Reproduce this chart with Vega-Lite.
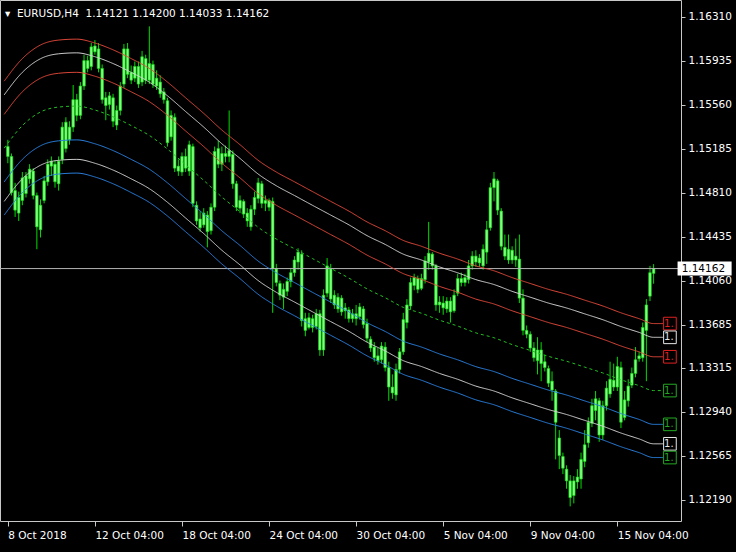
{
"$schema": "https://vega.github.io/schema/vega-lite/v6.json",
"width": 681, "height": 521,
"autosize": "none",
"padding": {"left": 0, "top": 0, "right": 55, "bottom": 31},
"background": "black",
"config": {"view": {"stroke": "#c8c8c8", "strokeWidth": 1, "fill": "black"}, "font": "DejaVu Sans"},
"title": {"text": "▾\u00a0 EURUSD,H4\u00a0\u00a01.14121 1.14200 1.14033 1.14162", "anchor": "start", "frame": "group", "orient": "top", "offset": -27, "dx": 5, "baseline": "alphabetic", "color": "white", "font": "DejaVu Sans", "fontSize": 10.5, "fontWeight": "normal"},
"datasets": {
"bars": [
{"i":1,"o":1.15202,"h":1.15260,"l":1.15060,"c":1.15118},
{"i":2,"o":1.15118,"h":1.15143,"l":1.14785,"c":1.14810},
{"i":3,"o":1.14827,"h":1.14893,"l":1.14602,"c":1.14660},
{"i":4,"o":1.14635,"h":1.14818,"l":1.14568,"c":1.14768},
{"i":5,"o":1.14743,"h":1.14985,"l":1.14702,"c":1.14935},
{"i":6,"o":1.14952,"h":1.14985,"l":1.14768,"c":1.14802},
{"i":7,"o":1.14927,"h":1.15052,"l":1.14885,"c":1.15010},
{"i":8,"o":1.14993,"h":1.15018,"l":1.14752,"c":1.14785},
{"i":9,"o":1.14785,"h":1.14810,"l":1.14327,"c":1.14518},
{"i":10,"o":1.14493,"h":1.14752,"l":1.14427,"c":1.14702},
{"i":11,"o":1.14743,"h":1.14952,"l":1.14718,"c":1.14910},
{"i":12,"o":1.14902,"h":1.15093,"l":1.14868,"c":1.15052},
{"i":13,"o":1.15035,"h":1.15118,"l":1.14952,"c":1.15077},
{"i":14,"o":1.15052,"h":1.15085,"l":1.14852,"c":1.14902},
{"i":15,"o":1.14885,"h":1.15118,"l":1.14827,"c":1.15077},
{"i":16,"o":1.15093,"h":1.15410,"l":1.15052,"c":1.15368},
{"i":17,"o":1.15410,"h":1.15452,"l":1.15152,"c":1.15185},
{"i":18,"o":1.15260,"h":1.15418,"l":1.15218,"c":1.15368},
{"i":19,"o":1.15368,"h":1.15727,"l":1.15327,"c":1.15602},
{"i":20,"o":1.15602,"h":1.15652,"l":1.15418,"c":1.15468},
{"i":21,"o":1.15468,"h":1.15752,"l":1.15435,"c":1.15718},
{"i":22,"o":1.15718,"h":1.15985,"l":1.15685,"c":1.15935},
{"i":23,"o":1.15935,"h":1.15977,"l":1.15835,"c":1.15868},
{"i":24,"o":1.15885,"h":1.16085,"l":1.15852,"c":1.16052},
{"i":25,"o":1.16060,"h":1.16110,"l":1.15985,"c":1.16010},
{"i":26,"o":1.16035,"h":1.16085,"l":1.15835,"c":1.15868},
{"i":27,"o":1.15868,"h":1.15902,"l":1.15568,"c":1.15602},
{"i":28,"o":1.15618,"h":1.15668,"l":1.15427,"c":1.15552},
{"i":29,"o":1.15560,"h":1.15668,"l":1.15518,"c":1.15635},
{"i":30,"o":1.15618,"h":1.15652,"l":1.15368,"c":1.15418},
{"i":31,"o":1.15385,"h":1.15552,"l":1.15343,"c":1.15510},
{"i":32,"o":1.15510,"h":1.15752,"l":1.15468,"c":1.15718},
{"i":33,"o":1.15735,"h":1.16077,"l":1.15702,"c":1.16035},
{"i":34,"o":1.16035,"h":1.16085,"l":1.15785,"c":1.15818},
{"i":35,"o":1.15835,"h":1.15893,"l":1.15735,"c":1.15768},
{"i":36,"o":1.15785,"h":1.15927,"l":1.15752,"c":1.15885},
{"i":37,"o":1.15885,"h":1.15927,"l":1.15702,"c":1.15735},
{"i":38,"o":1.15752,"h":1.16018,"l":1.15718,"c":1.15968},
{"i":39,"o":1.15952,"h":1.15985,"l":1.15735,"c":1.15768},
{"i":40,"o":1.15768,"h":1.16227,"l":1.15735,"c":1.15910},
{"i":41,"o":1.15902,"h":1.15935,"l":1.15702,"c":1.15735},
{"i":42,"o":1.15785,"h":1.15852,"l":1.15685,"c":1.15718},
{"i":43,"o":1.15752,"h":1.15810,"l":1.15618,"c":1.15652},
{"i":44,"o":1.15668,"h":1.15702,"l":1.15568,"c":1.15602},
{"i":45,"o":1.15593,"h":1.15618,"l":1.15202,"c":1.15235},
{"i":46,"o":1.15285,"h":1.15510,"l":1.15252,"c":1.15468},
{"i":47,"o":1.15452,"h":1.15485,"l":1.14985,"c":1.15018},
{"i":48,"o":1.15035,"h":1.15093,"l":1.14952,"c":1.14993},
{"i":49,"o":1.14985,"h":1.15152,"l":1.14952,"c":1.15118},
{"i":50,"o":1.15118,"h":1.15185,"l":1.14985,"c":1.15018},
{"i":51,"o":1.14993,"h":1.15252,"l":1.14952,"c":1.15218},
{"i":52,"o":1.15202,"h":1.15227,"l":1.14685,"c":1.14718},
{"i":53,"o":1.14702,"h":1.14735,"l":1.14535,"c":1.14568},
{"i":54,"o":1.14585,"h":1.14652,"l":1.14477,"c":1.14510},
{"i":55,"o":1.14535,"h":1.14677,"l":1.14510,"c":1.14635},
{"i":56,"o":1.14618,"h":1.14652,"l":1.14343,"c":1.14477},
{"i":57,"o":1.14485,"h":1.14718,"l":1.14452,"c":1.14685},
{"i":58,"o":1.14685,"h":1.15202,"l":1.14652,"c":1.15160},
{"i":59,"o":1.15185,"h":1.15252,"l":1.15018,"c":1.15052},
{"i":60,"o":1.15052,"h":1.15202,"l":1.14993,"c":1.15143},
{"i":61,"o":1.15143,"h":1.15210,"l":1.15068,"c":1.15118},
{"i":62,"o":1.15118,"h":1.15510,"l":1.15068,"c":1.15168},
{"i":63,"o":1.15135,"h":1.15168,"l":1.14843,"c":1.14885},
{"i":64,"o":1.14885,"h":1.14910,"l":1.14652,"c":1.14685},
{"i":65,"o":1.14677,"h":1.14785,"l":1.14635,"c":1.14743},
{"i":66,"o":1.14735,"h":1.14752,"l":1.14593,"c":1.14627},
{"i":67,"o":1.14635,"h":1.14677,"l":1.14518,"c":1.14568},
{"i":68,"o":1.14518,"h":1.14702,"l":1.14485,"c":1.14668},
{"i":69,"o":1.14668,"h":1.14818,"l":1.14618,"c":1.14768},
{"i":70,"o":1.14760,"h":1.14935,"l":1.14718,"c":1.14893},
{"i":71,"o":1.14885,"h":1.14910,"l":1.14677,"c":1.14718},
{"i":72,"o":1.14718,"h":1.14785,"l":1.14652,"c":1.14743},
{"i":73,"o":1.14743,"h":1.14760,"l":1.14652,"c":1.14685},
{"i":74,"o":1.14735,"h":1.14768,"l":1.13785,"c":1.14160},
{"i":75,"o":1.14160,"h":1.14202,"l":1.14010,"c":1.14043},
{"i":76,"o":1.14035,"h":1.14060,"l":1.13893,"c":1.13935},
{"i":77,"o":1.13918,"h":1.14035,"l":1.13818,"c":1.13985},
{"i":78,"o":1.13968,"h":1.14085,"l":1.13927,"c":1.14052},
{"i":79,"o":1.14052,"h":1.14168,"l":1.14002,"c":1.14127},
{"i":80,"o":1.14127,"h":1.14268,"l":1.14093,"c":1.14235},
{"i":81,"o":1.14218,"h":1.14335,"l":1.14152,"c":1.14302},
{"i":82,"o":1.14285,"h":1.14318,"l":1.13668,"c":1.13718},
{"i":83,"o":1.13735,"h":1.13785,"l":1.13585,"c":1.13635},
{"i":84,"o":1.13660,"h":1.13785,"l":1.13643,"c":1.13743},
{"i":85,"o":1.13735,"h":1.13768,"l":1.13618,"c":1.13660},
{"i":86,"o":1.13668,"h":1.13818,"l":1.13643,"c":1.13777},
{"i":87,"o":1.13777,"h":1.13810,"l":1.13418,"c":1.13468},
{"i":88,"o":1.13468,"h":1.13985,"l":1.13418,"c":1.13935},
{"i":89,"o":1.13952,"h":1.14252,"l":1.13918,"c":1.14185},
{"i":90,"o":1.14160,"h":1.14202,"l":1.13868,"c":1.13902},
{"i":91,"o":1.13935,"h":1.13977,"l":1.13818,"c":1.13852},
{"i":92,"o":1.13818,"h":1.13952,"l":1.13785,"c":1.13918},
{"i":93,"o":1.13910,"h":1.13935,"l":1.13760,"c":1.13793},
{"i":94,"o":1.13802,"h":1.13868,"l":1.13735,"c":1.13827},
{"i":95,"o":1.13810,"h":1.13835,"l":1.13702,"c":1.13735},
{"i":96,"o":1.13735,"h":1.13818,"l":1.13702,"c":1.13777},
{"i":97,"o":1.13777,"h":1.13852,"l":1.13677,"c":1.13735},
{"i":98,"o":1.13752,"h":1.13868,"l":1.13727,"c":1.13835},
{"i":99,"o":1.13818,"h":1.13843,"l":1.13652,"c":1.13685},
{"i":100,"o":1.13693,"h":1.13735,"l":1.13535,"c":1.13568},
{"i":101,"o":1.13560,"h":1.13585,"l":1.13452,"c":1.13485},
{"i":102,"o":1.13493,"h":1.13535,"l":1.13368,"c":1.13402},
{"i":103,"o":1.13418,"h":1.13485,"l":1.13343,"c":1.13377},
{"i":104,"o":1.13385,"h":1.13535,"l":1.13352,"c":1.13502},
{"i":105,"o":1.13493,"h":1.13535,"l":1.13285,"c":1.13318},
{"i":106,"o":1.13318,"h":1.13368,"l":1.13035,"c":1.13152},
{"i":107,"o":1.13152,"h":1.13260,"l":1.13052,"c":1.13102},
{"i":108,"o":1.13085,"h":1.13352,"l":1.13035,"c":1.13302},
{"i":109,"o":1.13302,"h":1.13485,"l":1.13268,"c":1.13452},
{"i":110,"o":1.13452,"h":1.13785,"l":1.13427,"c":1.13727},
{"i":111,"o":1.13702,"h":1.13902,"l":1.13652,"c":1.13852},
{"i":112,"o":1.13843,"h":1.14085,"l":1.13810,"c":1.14043},
{"i":113,"o":1.14018,"h":1.14118,"l":1.13977,"c":1.14085},
{"i":114,"o":1.14077,"h":1.14102,"l":1.13952,"c":1.13985},
{"i":115,"o":1.13993,"h":1.14118,"l":1.13977,"c":1.14077},
{"i":116,"o":1.14068,"h":1.14268,"l":1.14035,"c":1.14227},
{"i":117,"o":1.14218,"h":1.14560,"l":1.14152,"c":1.14293},
{"i":118,"o":1.14285,"h":1.14302,"l":1.14152,"c":1.14185},
{"i":119,"o":1.14185,"h":1.14202,"l":1.13802,"c":1.13852},
{"i":120,"o":1.13852,"h":1.13927,"l":1.13785,"c":1.13877},
{"i":121,"o":1.13868,"h":1.13927,"l":1.13768,"c":1.13827},
{"i":122,"o":1.13818,"h":1.13918,"l":1.13785,"c":1.13885},
{"i":123,"o":1.13885,"h":1.13918,"l":1.13702,"c":1.13793},
{"i":124,"o":1.13802,"h":1.13985,"l":1.13785,"c":1.13935},
{"i":125,"o":1.13952,"h":1.14118,"l":1.13927,"c":1.14077},
{"i":126,"o":1.14077,"h":1.14127,"l":1.14010,"c":1.14043},
{"i":127,"o":1.14043,"h":1.14118,"l":1.14010,"c":1.14085},
{"i":128,"o":1.14068,"h":1.14235,"l":1.14035,"c":1.14185},
{"i":129,"o":1.14185,"h":1.14310,"l":1.14152,"c":1.14268},
{"i":130,"o":1.14268,"h":1.14318,"l":1.14177,"c":1.14218},
{"i":131,"o":1.14210,"h":1.14285,"l":1.14177,"c":1.14252},
{"i":132,"o":1.14185,"h":1.14368,"l":1.14152,"c":1.14327},
{"i":133,"o":1.14302,"h":1.14568,"l":1.14202,"c":1.14493},
{"i":134,"o":1.14510,"h":1.14893,"l":1.14485,"c":1.14852},
{"i":135,"o":1.14852,"h":1.14985,"l":1.14735,"c":1.14927},
{"i":136,"o":1.14910,"h":1.14927,"l":1.14618,"c":1.14660},
{"i":137,"o":1.14652,"h":1.14677,"l":1.14318,"c":1.14352},
{"i":138,"o":1.14343,"h":1.14452,"l":1.14235,"c":1.14268},
{"i":139,"o":1.14235,"h":1.14452,"l":1.14202,"c":1.14327},
{"i":140,"o":1.14318,"h":1.14352,"l":1.14202,"c":1.14235},
{"i":141,"o":1.14235,"h":1.14418,"l":1.14177,"c":1.14268},
{"i":142,"o":1.14243,"h":1.14452,"l":1.13868,"c":1.13910},
{"i":143,"o":1.13910,"h":1.13985,"l":1.13593,"c":1.13635},
{"i":144,"o":1.13635,"h":1.13677,"l":1.13568,"c":1.13602},
{"i":145,"o":1.13602,"h":1.13627,"l":1.13452,"c":1.13485},
{"i":146,"o":1.13485,"h":1.13535,"l":1.13368,"c":1.13402},
{"i":147,"o":1.13377,"h":1.13577,"l":1.13260,"c":1.13468},
{"i":148,"o":1.13468,"h":1.13535,"l":1.13202,"c":1.13352},
{"i":149,"o":1.13368,"h":1.13427,"l":1.13285,"c":1.13318},
{"i":150,"o":1.13310,"h":1.13335,"l":1.13152,"c":1.13185},
{"i":151,"o":1.13202,"h":1.13285,"l":1.13035,"c":1.13127},
{"i":152,"o":1.13118,"h":1.13135,"l":1.12535,"c":1.12852},
{"i":153,"o":1.12718,"h":1.12785,"l":1.12452,"c":1.12568},
{"i":154,"o":1.12560,"h":1.12593,"l":1.12410,"c":1.12460},
{"i":155,"o":1.12452,"h":1.12485,"l":1.12285,"c":1.12352},
{"i":156,"o":1.12352,"h":1.12402,"l":1.12135,"c":1.12210},
{"i":157,"o":1.12227,"h":1.12393,"l":1.12160,"c":1.12352},
{"i":158,"o":1.12343,"h":1.12452,"l":1.12285,"c":1.12385},
{"i":159,"o":1.12368,"h":1.12593,"l":1.12285,"c":1.12535},
{"i":160,"o":1.12518,"h":1.12785,"l":1.12468,"c":1.12660},
{"i":161,"o":1.12677,"h":1.12893,"l":1.12635,"c":1.12852},
{"i":162,"o":1.12843,"h":1.13052,"l":1.12810,"c":1.12993},
{"i":163,"o":1.12952,"h":1.13118,"l":1.12868,"c":1.13052},
{"i":164,"o":1.13035,"h":1.13060,"l":1.12685,"c":1.12743},
{"i":165,"o":1.12743,"h":1.13035,"l":1.12702,"c":1.12993},
{"i":166,"o":1.12993,"h":1.13202,"l":1.12952,"c":1.13143},
{"i":167,"o":1.13093,"h":1.13368,"l":1.13060,"c":1.13218},
{"i":168,"o":1.13210,"h":1.13352,"l":1.13118,"c":1.13152},
{"i":169,"o":1.13152,"h":1.13410,"l":1.13118,"c":1.13327},
{"i":170,"o":1.13318,"h":1.13368,"l":1.12802,"c":1.12852},
{"i":171,"o":1.12893,"h":1.13118,"l":1.12868,"c":1.13043},
{"i":172,"o":1.13035,"h":1.13218,"l":1.12985,"c":1.13160},
{"i":173,"o":1.13168,"h":1.13318,"l":1.13143,"c":1.13268},
{"i":174,"o":1.13268,"h":1.13493,"l":1.13235,"c":1.13385},
{"i":175,"o":1.13393,"h":1.13452,"l":1.13368,"c":1.13418},
{"i":176,"o":1.13402,"h":1.13702,"l":1.13368,"c":1.13660},
{"i":177,"o":1.13635,"h":1.13902,"l":1.13202,"c":1.13852},
{"i":178,"o":1.13927,"h":1.14185,"l":1.13885,"c":1.14127},
{"i":179,"o":1.14121,"h":1.14200,"l":1.14033,"c":1.14162}
],
"bands": [
{"i":0,"ru":1.15760,"wu":1.15643,"rl":1.15477,"ma":1.15189,"bu":1.14901,"wl":1.14735,"bl":1.14618},
{"i":5,"ru":1.15952,"wu":1.15835,"rl":1.15669,"ma":1.15381,"bu":1.15093,"wl":1.14927,"bl":1.14810},
{"i":10,"ru":1.16068,"wu":1.15951,"rl":1.15785,"ma":1.15497,"bu":1.15209,"wl":1.15043,"bl":1.14926},
{"i":15,"ru":1.16110,"wu":1.15993,"rl":1.15827,"ma":1.15539,"bu":1.15251,"wl":1.15085,"bl":1.14968},
{"i":20,"ru":1.16118,"wu":1.16001,"rl":1.15835,"ma":1.15547,"bu":1.15259,"wl":1.15093,"bl":1.14976},
{"i":25,"ru":1.16085,"wu":1.15968,"rl":1.15802,"ma":1.15514,"bu":1.15226,"wl":1.15060,"bl":1.14943},
{"i":30,"ru":1.16027,"wu":1.15910,"rl":1.15744,"ma":1.15456,"bu":1.15168,"wl":1.15002,"bl":1.14885},
{"i":35,"ru":1.15952,"wu":1.15835,"rl":1.15669,"ma":1.15381,"bu":1.15093,"wl":1.14927,"bl":1.14810},
{"i":40,"ru":1.15868,"wu":1.15751,"rl":1.15585,"ma":1.15297,"bu":1.15009,"wl":1.14843,"bl":1.14726},
{"i":45,"ru":1.15752,"wu":1.15635,"rl":1.15469,"ma":1.15181,"bu":1.14893,"wl":1.14727,"bl":1.14610},
{"i":50,"ru":1.15618,"wu":1.15501,"rl":1.15335,"ma":1.15047,"bu":1.14759,"wl":1.14593,"bl":1.14476},
{"i":55,"ru":1.15485,"wu":1.15368,"rl":1.15202,"ma":1.14914,"bu":1.14626,"wl":1.14460,"bl":1.14343},
{"i":60,"ru":1.15343,"wu":1.15226,"rl":1.15060,"ma":1.14772,"bu":1.14484,"wl":1.14318,"bl":1.14201},
{"i":65,"ru":1.15218,"wu":1.15101,"rl":1.14935,"ma":1.14647,"bu":1.14359,"wl":1.14193,"bl":1.14076},
{"i":70,"ru":1.15085,"wu":1.14968,"rl":1.14802,"ma":1.14514,"bu":1.14226,"wl":1.14060,"bl":1.13943},
{"i":75,"ru":1.14985,"wu":1.14868,"rl":1.14702,"ma":1.14414,"bu":1.14126,"wl":1.13960,"bl":1.13843},
{"i":80,"ru":1.14902,"wu":1.14785,"rl":1.14619,"ma":1.14331,"bu":1.14043,"wl":1.13877,"bl":1.13760},
{"i":85,"ru":1.14818,"wu":1.14701,"rl":1.14535,"ma":1.14247,"bu":1.13959,"wl":1.13793,"bl":1.13676},
{"i":90,"ru":1.14735,"wu":1.14618,"rl":1.14452,"ma":1.14164,"bu":1.13876,"wl":1.13710,"bl":1.13593},
{"i":95,"ru":1.14652,"wu":1.14535,"rl":1.14369,"ma":1.14081,"bu":1.13793,"wl":1.13627,"bl":1.13510},
{"i":100,"ru":1.14560,"wu":1.14443,"rl":1.14277,"ma":1.13989,"bu":1.13701,"wl":1.13535,"bl":1.13418},
{"i":105,"ru":1.14485,"wu":1.14368,"rl":1.14202,"ma":1.13914,"bu":1.13626,"wl":1.13460,"bl":1.13343},
{"i":110,"ru":1.14402,"wu":1.14285,"rl":1.14119,"ma":1.13831,"bu":1.13543,"wl":1.13377,"bl":1.13260},
{"i":115,"ru":1.14352,"wu":1.14235,"rl":1.14069,"ma":1.13781,"bu":1.13493,"wl":1.13327,"bl":1.13210},
{"i":120,"ru":1.14293,"wu":1.14176,"rl":1.14010,"ma":1.13722,"bu":1.13434,"wl":1.13268,"bl":1.13151},
{"i":125,"ru":1.14243,"wu":1.14126,"rl":1.13960,"ma":1.13672,"bu":1.13384,"wl":1.13218,"bl":1.13101},
{"i":130,"ru":1.14185,"wu":1.14068,"rl":1.13902,"ma":1.13614,"bu":1.13326,"wl":1.13160,"bl":1.13043},
{"i":135,"ru":1.14143,"wu":1.14026,"rl":1.13860,"ma":1.13572,"bu":1.13284,"wl":1.13118,"bl":1.13001},
{"i":140,"ru":1.14085,"wu":1.13968,"rl":1.13802,"ma":1.13514,"bu":1.13226,"wl":1.13060,"bl":1.12943},
{"i":145,"ru":1.14035,"wu":1.13918,"rl":1.13752,"ma":1.13464,"bu":1.13176,"wl":1.13010,"bl":1.12893},
{"i":150,"ru":1.13985,"wu":1.13868,"rl":1.13702,"ma":1.13414,"bu":1.13126,"wl":1.12960,"bl":1.12843},
{"i":155,"ru":1.13943,"wu":1.13826,"rl":1.13660,"ma":1.13372,"bu":1.13084,"wl":1.12918,"bl":1.12801},
{"i":160,"ru":1.13893,"wu":1.13776,"rl":1.13610,"ma":1.13322,"bu":1.13034,"wl":1.12868,"bl":1.12751},
{"i":165,"ru":1.13843,"wu":1.13726,"rl":1.13560,"ma":1.13272,"bu":1.12984,"wl":1.12818,"bl":1.12701},
{"i":170,"ru":1.13785,"wu":1.13668,"rl":1.13502,"ma":1.13214,"bu":1.12926,"wl":1.12760,"bl":1.12643},
{"i":175,"ru":1.13735,"wu":1.13618,"rl":1.13452,"ma":1.13164,"bu":1.12876,"wl":1.12710,"bl":1.12593},
{"i":179,"ru":1.13693,"wu":1.13576,"rl":1.13410,"ma":1.13122,"bu":1.12834,"wl":1.12668,"bl":1.12551},
{"i":181.6,"ru":1.13693,"wu":1.13576,"rl":1.13410,"ma":1.13122,"bu":1.12834,"wl":1.12668,"bl":1.12551}
],
"tags": [
{"k":"ru","p":1.13693,"t":"1.13693"},
{"k":"wu","p":1.13576,"t":"1.13576"},
{"k":"rl","p":1.13410,"t":"1.13410"},
{"k":"ma","p":1.13122,"t":"1.13122"},
{"k":"bu","p":1.12834,"t":"1.12834"},
{"k":"wl","p":1.12668,"t":"1.12668"},
{"k":"bl","p":1.12551,"t":"1.12551"}
],
"last": [{"p":1.14162,"t":"1.14162"}]
},
"layer": [
{
"data": {"name": "bars"},
"mark": {"type": "rule", "color": "#00dd00", "strokeWidth": 1, "clip": true},
"encoding": {
"x": {"field": "i", "type": "quantitative", "scale": {"domain": [0.217, 185.17], "nice": false, "zero": false},
"axis": {"title": null, "values": [1, 25, 49, 73, 97, 121, 145, 169], "labelExpr": "['8 Oct 2018','12 Oct 04:00','18 Oct 04:00','24 Oct 04:00','30 Oct 04:00','5 Nov 04:00','9 Nov 04:00','15 Nov 04:00'][round((datum.value-1)/24)]", "labelAlign": "left", "labelBaseline": "top", "labelPadding": 4, "labelDx": 1, "tickSize": 5, "tickColor": "#c8c8c8", "labelColor": "#ffffff", "labelFont": "DejaVu Sans", "labelFontSize": 10.5, "domain": false, "grid": false, "labelFlush": false, "labelOverlap": false, "labelBound": false}},
"y": {"field": "l", "type": "quantitative", "scale": {"domain": [1.1201, 1.164517], "nice": false, "zero": false},
"axis": {"title": null, "orient": "right", "values": [1.1631, 1.15935, 1.1556, 1.15185, 1.1481, 1.14435, 1.1406, 1.13685, 1.13315, 1.1294, 1.12565, 1.1219], "format": ".5f", "labelAlign": "left", "labelBaseline": "middle", "labelPadding": 3, "tickSize": 4, "tickColor": "#c8c8c8", "labelColor": "#ffffff", "labelFont": "DejaVu Sans", "labelFontSize": 10.5, "domain": false, "grid": false, "labelOverlap": false, "labelBound": false, "labelFlush": false}},
"y2": {"field": "h"}
}
},
{
"data": {"name": "bars"},
"mark": {"type": "bar", "width": 2.6, "fill": "#7dff7d", "stroke": "#10e010", "strokeWidth": 0.6, "clip": true},
"encoding": {
"x": {"field": "i", "type": "quantitative"},
"y": {"field": "o", "type": "quantitative"},
"y2": {"field": "c"}
}
},
{
"data": {"name": "last"},
"mark": {"type": "rule", "color": "#b4b4b4", "strokeWidth": 1},
"encoding": {"y": {"field": "p", "type": "quantitative"}}
},
{
"data": {"name": "bands"},
"transform": [{"fold": ["ru", "wu", "rl", "ma", "bu", "wl", "bl"], "as": ["key", "val"]}],
"mark": {"type": "line", "strokeWidth": 1, "interpolate": "monotone", "clip": true},
"encoding": {
"x": {"field": "i", "type": "quantitative"},
"y": {"field": "val", "type": "quantitative"},
"detail": {"field": "key"},
"color": {"field": "key", "type": "nominal", "legend": null, "scale": {"domain": ["ru", "wu", "rl", "ma", "bu", "wl", "bl"], "range": ["#e0483a", "#d2d2d2", "#e0483a", "#22c022", "#2a80e0", "#d2d2d2", "#2a80e0"]}},
"strokeDash": {"field": "key", "type": "nominal", "legend": null, "scale": {"domain": ["ru", "wu", "rl", "ma", "bu", "wl", "bl"], "range": [[1, 0], [1, 0], [1, 0], [3, 3], [1, 0], [1, 0], [1, 0]]}}
}
},
{
"data": {"name": "tags"},
"mark": {"type": "point", "shape": "square", "size": 160, "filled": true, "fill": "black", "strokeWidth": 1, "clip": true, "opacity": 1},
"encoding": {
"x": {"datum": 183.5, "type": "quantitative"},
"y": {"field": "p", "type": "quantitative"},
"stroke": {"field": "k", "type": "nominal", "legend": null, "scale": {"domain": ["ru", "wu", "rl", "ma", "bu", "wl", "bl"], "range": ["#e02020", "#e6e6e6", "#e02020", "#22aa22", "#22aa22", "#e6e6e6", "#22aa22"]}}
}
},
{
"data": {"name": "tags"},
"mark": {"type": "text", "align": "left", "baseline": "middle", "dx": 1, "fontSize": 10, "font": "DejaVu Sans", "clip": true, "limit": 14, "ellipsis": "\u200b"},
"encoding": {
"x": {"datum": 181.6, "type": "quantitative"},
"y": {"field": "p", "type": "quantitative"},
"text": {"field": "t"},
"color": {"field": "k", "type": "nominal", "legend": null, "scale": {"domain": ["ru", "wu", "rl", "ma", "bu", "wl", "bl"], "range": ["#e02020", "#e6e6e6", "#e02020", "#22aa22", "#22aa22", "#e6e6e6", "#22aa22"]}}
}
},
{
"data": {"name": "last"},
"mark": {"type": "rect", "fill": "#ffffff", "yOffset": -7, "y2Offset": 7, "clip": false},
"encoding": {
"x": {"datum": 185.6, "type": "quantitative"},
"x2": {"datum": 200.5},
"y": {"field": "p", "type": "quantitative"},
"y2": {"field": "p"}
}
},
{
"data": {"name": "last"},
"mark": {"type": "text", "align": "left", "baseline": "middle", "dx": 3, "fontSize": 10.5, "font": "DejaVu Sans", "color": "#000000", "clip": false},
"encoding": {
"x": {"datum": 185.9, "type": "quantitative"},
"y": {"field": "p", "type": "quantitative"},
"text": {"field": "t"}
}
}
],
"resolve": {"scale": {"color": "independent", "stroke": "independent", "strokeDash": "independent"}}
}
